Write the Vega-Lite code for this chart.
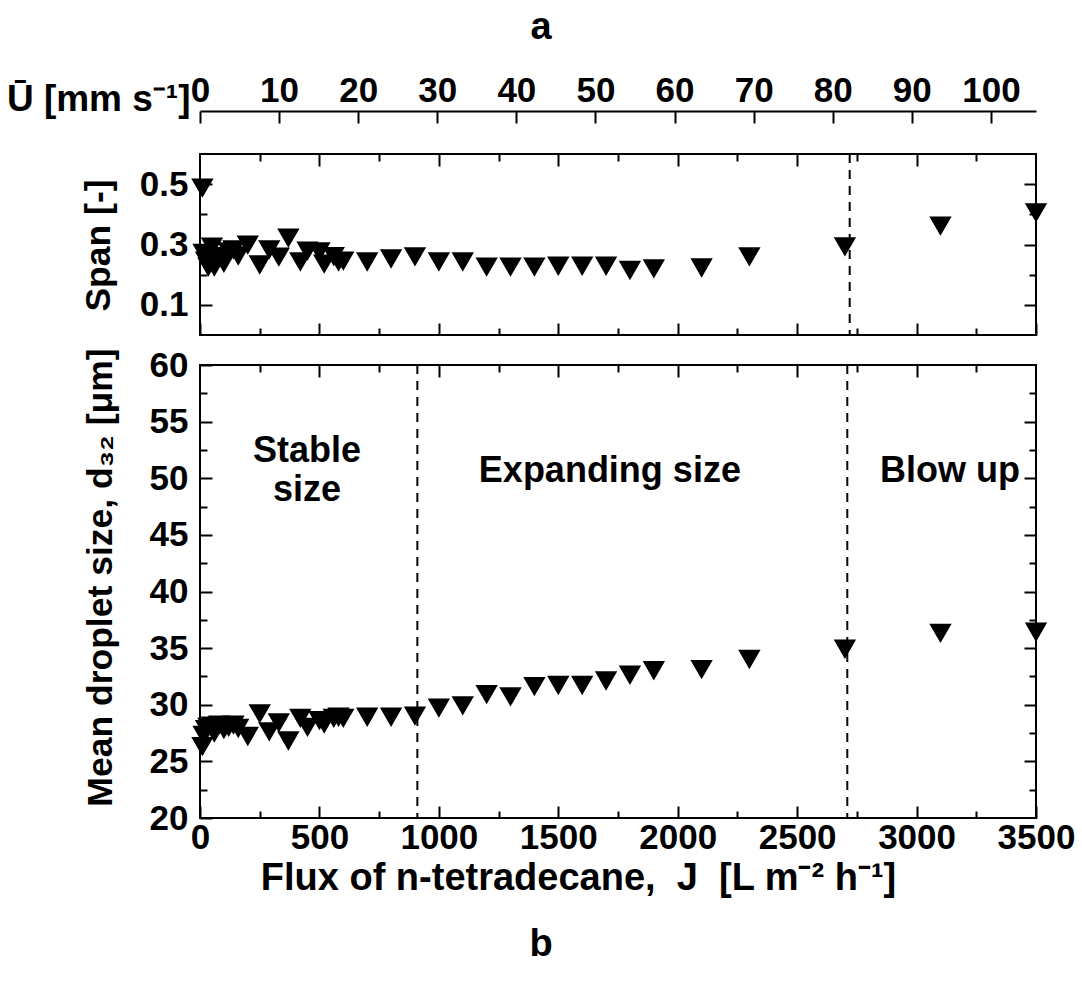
{
  "$schema": "https://vega.github.io/schema/vega-lite/v6.json",
  "padding": {"left": 5, "top": 8, "right": 5, "bottom": 5},
  "background": "white",
  "datasets": {
    "pts": [
      {"J": 10, "d32": 26.3, "span": 0.487},
      {"J": 15, "d32": 27.3, "span": 0.27},
      {"J": 25, "d32": 27.8, "span": 0.245},
      {"J": 35, "d32": 28.0, "span": 0.225},
      {"J": 50, "d32": 28.1, "span": 0.291},
      {"J": 60, "d32": 27.5, "span": 0.225},
      {"J": 80, "d32": 28.2, "span": 0.26},
      {"J": 100, "d32": 27.8, "span": 0.238},
      {"J": 120, "d32": 28.0, "span": 0.275},
      {"J": 140, "d32": 28.2, "span": 0.282},
      {"J": 160, "d32": 27.9, "span": 0.262},
      {"J": 200, "d32": 27.2, "span": 0.298},
      {"J": 250, "d32": 29.2, "span": 0.232},
      {"J": 290, "d32": 27.6, "span": 0.282},
      {"J": 330, "d32": 28.4, "span": 0.258},
      {"J": 370, "d32": 26.8, "span": 0.321},
      {"J": 420, "d32": 28.8, "span": 0.242},
      {"J": 450, "d32": 28.0, "span": 0.278},
      {"J": 500, "d32": 28.6, "span": 0.275},
      {"J": 520, "d32": 28.3, "span": 0.235},
      {"J": 560, "d32": 28.8, "span": 0.26},
      {"J": 580, "d32": 28.9, "span": 0.242},
      {"J": 600, "d32": 28.8, "span": 0.245},
      {"J": 700, "d32": 28.9, "span": 0.242},
      {"J": 800, "d32": 28.9, "span": 0.252},
      {"J": 900, "d32": 29.0, "span": 0.259},
      {"J": 1000, "d32": 29.7, "span": 0.242},
      {"J": 1100, "d32": 29.9, "span": 0.242},
      {"J": 1200, "d32": 30.9, "span": 0.225},
      {"J": 1300, "d32": 30.7, "span": 0.225},
      {"J": 1400, "d32": 31.6, "span": 0.225},
      {"J": 1500, "d32": 31.7, "span": 0.228},
      {"J": 1600, "d32": 31.7, "span": 0.228},
      {"J": 1700, "d32": 32.1, "span": 0.228},
      {"J": 1800, "d32": 32.6, "span": 0.214},
      {"J": 1900, "d32": 33.0, "span": 0.219},
      {"J": 2100, "d32": 33.1, "span": 0.222},
      {"J": 2300, "d32": 34.0, "span": 0.259},
      {"J": 2700, "d32": 34.9, "span": 0.292},
      {"J": 3100, "d32": 36.3, "span": 0.361},
      {"J": 3500, "d32": 36.4, "span": 0.405}
    ],
    "uaxis": [{"U": 0}, {"U": 105.7}],
    "notes": [
      {"label": "Stable", "J": 448, "d32": 52.45},
      {"label": "size", "J": 448, "d32": 49.0},
      {"label": "Expanding size", "J": 1716, "d32": 50.6},
      {"label": "Blow up", "J": 3140, "d32": 50.6}
    ]
  },
  "vconcat": [
    {
      "width": 836,
      "height": 181,
      "title": {"text": "a", "frame": "group", "anchor": "middle", "dx": -77, "fontSize": 38, "font": "Liberation Sans", "fontWeight": "bold", "color": "black", "offset": 26},
      "layer": [
        {
          "data": {"name": "pts"},
          "mark": {"type": "point", "shape": "triangle-down", "filled": true, "color": "black", "opacity": 1, "size": 500},
          "encoding": {
            "x": {"field": "J", "type": "quantitative", "scale": {"domain": [0, 3500], "nice": false, "zero": false},
                  "axis": {"orient": "bottom", "values": [0, 500, 1000, 1500, 2000, 2500, 3000, 3500], "labels": false, "tickSize": -12, "title": null}},
            "y": {"field": "span", "type": "quantitative", "scale": {"domain": [0, 0.6], "nice": false, "zero": false},
                  "axis": {"orient": "left", "values": [0.1, 0.3, 0.5], "format": ".1f", "tickSize": -12, "labelPadding": 24,
                           "title": "Span [-]", "titleX": -102, "titleY": 91, "titleAngle": -90, "titleAlign": "center", "titleBaseline": "middle"}}
          }
        },
        {
          "data": {"name": "pts"},
          "mark": {"type": "point", "opacity": 0},
          "encoding": {
            "x": {"field": "J", "type": "quantitative", "scale": {"domain": [0, 3500], "nice": false, "zero": false},
                  "axis": {"orient": "bottom", "values": [250, 750, 1250, 1750, 2250, 2750, 3250], "labels": false, "tickSize": -7, "title": null}},
            "y": {"field": "span", "type": "quantitative", "scale": {"domain": [0, 0.6], "nice": false, "zero": false},
                  "axis": {"orient": "left", "values": [0.2, 0.4], "labels": false, "tickSize": -7, "title": null}}
          }
        },
        {
          "data": {"name": "pts"},
          "mark": {"type": "point", "opacity": 0},
          "encoding": {
            "x": {"field": "J", "type": "quantitative", "scale": {"domain": [0, 3500], "nice": false, "zero": false},
                  "axis": {"orient": "top", "values": [500, 1000, 1500, 2000, 2500, 3000], "labels": false, "tickSize": -12, "title": null}},
            "y": {"field": "span", "type": "quantitative", "scale": {"domain": [0, 0.6], "nice": false, "zero": false},
                  "axis": {"orient": "right", "values": [0.1, 0.3, 0.5], "labels": false, "tickSize": -12, "title": null}}
          }
        },
        {
          "data": {"name": "pts"},
          "mark": {"type": "point", "opacity": 0},
          "encoding": {
            "x": {"field": "J", "type": "quantitative", "scale": {"domain": [0, 3500], "nice": false, "zero": false},
                  "axis": {"orient": "top", "values": [250, 750, 1250, 1750, 2250, 2750, 3250], "labels": false, "tickSize": -7, "title": null}},
            "y": {"field": "span", "type": "quantitative", "scale": {"domain": [0, 0.6], "nice": false, "zero": false},
                  "axis": {"orient": "right", "values": [0.2, 0.4], "labels": false, "tickSize": -7, "title": null}}
          }
        },
        {
          "data": {"values": [{"J": 2720}]},
          "mark": {"type": "rule", "color": "black", "strokeWidth": 2, "strokeDash": [9, 7]},
          "encoding": {
            "x": {"field": "J", "type": "quantitative", "scale": {"domain": [0, 3500], "nice": false, "zero": false}, "axis": null}
          }
        },
        {
          "data": {"name": "uaxis"},
          "mark": {"type": "point", "opacity": 0},
          "encoding": {
            "x": {"field": "U", "type": "quantitative", "scale": {"domain": [0, 105.7], "nice": false, "zero": false},
                  "axis": {"orient": "top", "offset": 43, "values": [0, 10, 20, 30, 40, 50, 60, 70, 80, 90, 100], "tickSize": -12, "labelPadding": 15,
                           "labelFontSize": 35,
                           "domain": true, "domainColor": "black", "domainWidth": 2,
                           "title": "Ū [mm s⁻¹]", "titleFontSize": 37, "titleX": -10, "titleY": -12, "titleAngle": 0, "titleAlign": "right", "titleBaseline": "middle"}}
          }
        }
      ],
      "resolve": {"scale": {"x": "independent"}, "axis": {"x": "independent", "y": "independent"}}
    },
    {
      "width": 836,
      "height": 453,
      "title": {"text": "b", "orient": "bottom", "frame": "group", "anchor": "middle", "dx": -77, "fontSize": 38, "font": "Liberation Sans", "fontWeight": "bold", "color": "black", "offset": 29},
      "layer": [
        {
          "data": {"name": "pts"},
          "mark": {"type": "point", "shape": "triangle-down", "filled": true, "color": "black", "opacity": 1, "size": 500},
          "encoding": {
            "x": {"field": "J", "type": "quantitative", "scale": {"domain": [0, 3500], "nice": false, "zero": false},
                  "axis": {"orient": "bottom", "values": [0, 500, 1000, 1500, 2000, 2500, 3000, 3500], "format": "d", "tickSize": -12, "labelPadding": 14,
                           "title": "Flux of n-tetradecane,\u00a0\u00a0J\u00a0\u00a0[L m⁻² h⁻¹]", "titleFontSize": 38, "titleX": 378, "titleY": 60, "titleAlign": "center", "titleBaseline": "middle"}},
            "y": {"field": "d32", "type": "quantitative", "scale": {"domain": [20, 60], "nice": false, "zero": false},
                  "axis": {"orient": "left", "values": [20, 25, 30, 35, 40, 45, 50, 55, 60], "tickSize": -12, "labelPadding": 24,
                           "title": "Mean droplet size, d₃₂ [μm]", "titleFontSize": 35.5, "titleX": -100, "titleY": 212, "titleAngle": -90, "titleAlign": "center", "titleBaseline": "middle"}}
          }
        },
        {
          "data": {"name": "pts"},
          "mark": {"type": "point", "opacity": 0},
          "encoding": {
            "x": {"field": "J", "type": "quantitative", "scale": {"domain": [0, 3500], "nice": false, "zero": false},
                  "axis": {"orient": "bottom", "values": [250, 750, 1250, 1750, 2250, 2750, 3250], "labels": false, "tickSize": -7, "title": null}},
            "y": {"field": "d32", "type": "quantitative", "scale": {"domain": [20, 60], "nice": false, "zero": false},
                  "axis": {"orient": "left", "values": [22.5, 27.5, 32.5, 37.5, 42.5, 47.5, 52.5, 57.5], "labels": false, "tickSize": -7, "title": null}}
          }
        },
        {
          "data": {"name": "pts"},
          "mark": {"type": "point", "opacity": 0},
          "encoding": {
            "x": {"field": "J", "type": "quantitative", "scale": {"domain": [0, 3500], "nice": false, "zero": false},
                  "axis": {"orient": "top", "values": [500, 1000, 1500, 2000, 2500, 3000], "labels": false, "tickSize": -12, "title": null}},
            "y": {"field": "d32", "type": "quantitative", "scale": {"domain": [20, 60], "nice": false, "zero": false},
                  "axis": {"orient": "right", "values": [25, 30, 35, 40, 45, 50, 55], "labels": false, "tickSize": -12, "title": null}}
          }
        },
        {
          "data": {"name": "pts"},
          "mark": {"type": "point", "opacity": 0},
          "encoding": {
            "x": {"field": "J", "type": "quantitative", "scale": {"domain": [0, 3500], "nice": false, "zero": false},
                  "axis": {"orient": "top", "values": [250, 750, 1250, 1750, 2250, 2750, 3250], "labels": false, "tickSize": -7, "title": null}},
            "y": {"field": "d32", "type": "quantitative", "scale": {"domain": [20, 60], "nice": false, "zero": false},
                  "axis": {"orient": "right", "values": [22.5, 27.5, 32.5, 37.5, 42.5, 47.5, 52.5, 57.5], "labels": false, "tickSize": -7, "title": null}}
          }
        },
        {
          "data": {"values": [{"J": 910}, {"J": 2710}]},
          "mark": {"type": "rule", "color": "black", "strokeWidth": 2, "strokeDash": [9, 7]},
          "encoding": {
            "x": {"field": "J", "type": "quantitative", "scale": {"domain": [0, 3500], "nice": false, "zero": false}, "axis": null}
          }
        },
        {
          "data": {"name": "notes"},
          "mark": {"type": "text", "font": "Liberation Sans", "fontWeight": "bold", "fontSize": 36, "color": "black", "align": "center", "baseline": "middle"},
          "encoding": {
            "x": {"field": "J", "type": "quantitative", "scale": {"domain": [0, 3500], "nice": false, "zero": false}, "axis": null},
            "y": {"field": "d32", "type": "quantitative", "scale": {"domain": [20, 60], "nice": false, "zero": false}, "axis": null},
            "text": {"field": "label"}
          }
        }
      ],
      "resolve": {"axis": {"x": "independent", "y": "independent"}}
    }
  ],
  "spacing": 9,
  "config": {
    "view": {"stroke": "black", "strokeWidth": 2},
    "axis": {
      "labelFont": "Liberation Sans", "labelFontWeight": "bold", "labelFontSize": 35, "labelColor": "black",
      "titleFont": "Liberation Sans", "titleFontWeight": "bold", "titleFontSize": 35.5, "titleColor": "black",
      "tickColor": "black", "tickWidth": 2, "domain": false, "grid": false,
      "labelFlush": false, "labelOverlap": false, "minExtent": 0
    }
  }
}
